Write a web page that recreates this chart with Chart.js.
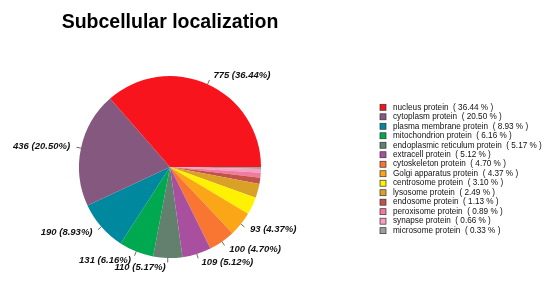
<!DOCTYPE html>
<html>
<head>
<meta charset="utf-8">
<script src="https://cdn.jsdelivr.net/npm/chart.js@4/dist/chart.umd.min.js"></script>
<style>
  html, body { margin: 0; padding: 0; background: #fff; }
  #wrap { width: 550px; height: 284px; }
</style>
</head>
<body>
<div id="wrap"><canvas id="c" width="550" height="284"></canvas></div>
<script>
// Protein counts per subcellular compartment
const categories = [
  'nucleus protein', 'cytoplasm protein', 'plasma membrane protein',
  'mitochondrion protein', 'endoplasmic reticulum protein', 'extracell protein',
  'cytoskeleton protein', 'Golgi apparatus protein', 'centrosome protein',
  'lysosome protein', 'endosome protein', 'peroxisome protein',
  'synapse protein', 'microsome protein'
];
const counts = [775, 436, 190, 131, 110, 109, 100, 93, 66, 53, 24, 19, 14, 7];
const colors = [
  '#F8141C', '#855880', '#00889E', '#00A84F', '#63806F', '#A8509F',
  '#F87532', '#FBA617', '#FFF200', '#D9A126', '#C2534B', '#F07AA0',
  '#F5A0C2', '#9E9E9E'
];
const titleText = 'Subcellular localization';
const LABEL_MIN_PCT = 4; // slices below this share get no outside label

const total = counts.reduce((a, b) => a + b, 0);
const pct = counts.map(v => (v / total * 100));

// Slices run counter-clockwise from 3 o'clock, so feed them to Chart.js reversed
const rev = a => a.slice().reverse();

const sliceLabels = {
  id: 'sliceLabels',
  afterDatasetsDraw(chart) {
    const ctx = chart.ctx;
    const meta = chart.getDatasetMeta(0);
    const n = counts.length;
    ctx.save();
    ctx.strokeStyle = '#444';
    ctx.lineWidth = 0.8;
    ctx.fillStyle = '#111';
    ctx.font = 'italic bold 9.5px "Liberation Sans", Arial, sans-serif';
    ctx.textBaseline = 'middle';
    meta.data.forEach((arc, i) => {
      const k = n - 1 - i; // index in the original order
      if (pct[k] < LABEL_MIN_PCT) return;
      const p = arc.getProps(['x', 'y', 'startAngle', 'endAngle', 'outerRadius'], true);
      const mid = (p.startAngle + p.endAngle) / 2;
      const r = p.outerRadius;
      const c = Math.cos(mid), s = Math.sin(mid);
      ctx.beginPath();
      ctx.moveTo(p.x + c * r, p.y + s * r);
      ctx.lineTo(p.x + c * r * 1.05, p.y + s * r * 1.05);
      ctx.stroke();
      const tx = p.x + c * r * 1.1, ty = p.y + s * r * 1.1;
      const txt = counts[k] + ' (' + pct[k].toFixed(2) + '%)';
      ctx.textAlign = c >= 0 ? 'left' : 'right';
      ctx.fillText(txt, tx + (c >= 0 ? 2 : -2), ty);
    });
    // title centred over the pie
    const c0 = meta.data[0];
    ctx.font = 'bold 19.5px "Liberation Sans", Arial, sans-serif';
    ctx.textAlign = 'center';
    ctx.textBaseline = 'alphabetic';
    ctx.fillStyle = '#000';
    ctx.fillText(titleText, c0.x, 28);

    // legend
    ctx.font = '8.2px "Liberation Sans", Arial, sans-serif';
    ctx.textAlign = 'left';
    ctx.textBaseline = 'middle';
    const lx = 380, ly = 107.3, step = 9.49;
    categories.forEach((name, k) => {
      const y = ly + k * step;
      ctx.fillStyle = colors[k];
      ctx.fillRect(lx, y - 3, 6, 6);
      ctx.strokeStyle = '#333';
      ctx.lineWidth = 0.7;
      ctx.strokeRect(lx, y - 3, 6, 6);
      ctx.fillStyle = '#111';
      ctx.fillText(name + '  ( ' + pct[k].toFixed(2) + ' % )', 393, y);
    });
    ctx.restore();
  }
};

new Chart(document.getElementById('c'), {
  type: 'pie',
  data: {
    labels: rev(categories),
    datasets: [{
      data: rev(counts),
      backgroundColor: rev(colors),
      borderWidth: 0,
      hoverOffset: 0
    }]
  },
  options: {
    responsive: false,
    animation: false,
    rotation: 90,
    layout: { padding: { left: 79, right: 289, top: 76, bottom: 26 } },
    plugins: {
      legend: { display: false },
      title: { display: false },
      tooltip: { enabled: false }
    }
  },
  plugins: [sliceLabels]
});
</script>
</body>
</html>
